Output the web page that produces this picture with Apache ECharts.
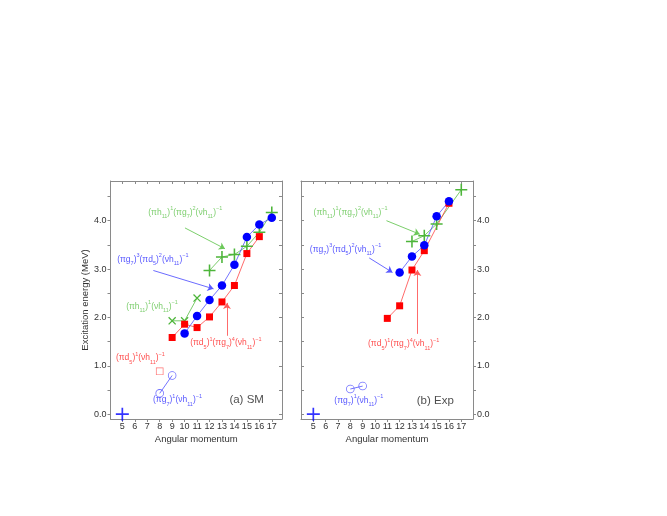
<!DOCTYPE html>
<html><head><meta charset="utf-8">
<script src="https://cdn.jsdelivr.net/npm/echarts@6/dist/echarts.min.js"></script>
<style>html,body{margin:0;padding:0;background:#fff}#c{width:667px;height:516px}</style>
</head><body><div id="c"></div>
<script>
// ---- data ----
const xTicks = [5,6,7,8,9,10,11,12,13,14,15,16,17];
const yLabels = [0,1,2,3,4];
const yTicks = [0,0.5,1,1.5,2,2.5,3,3.5,4,4.5];

const smBlueJ = [10,11,12,13,14,15,16,17];
const smBlueE = [1.67,2.03,2.36,2.66,3.09,3.66,3.92,4.06];
const smRedJ = [9,10,11,12,13,14,15,16];
const smRedE = [1.585,1.86,1.79,2.01,2.32,2.66,3.32,3.67];
const smGreenXJ = [9,10,11];
const smGreenXE = [1.93,1.93,2.40];
const smGreenPJ = [12,13,14,15,16,17];
const smGreenPE = [2.97,3.25,3.30,3.47,3.76,4.17];
const smBlueOpenJ = [8,9];
const smBlueOpenE = [0.43,0.80];
const smRedOpenJ = [8];
const smRedOpenE = [0.885];
const gsJ = [5];
const gsE = [0];

const expBlueJ = [12,13,14,15,16];
const expBlueE = [2.93,3.26,3.49,4.09,4.40];
const expRedJ = [11,12,13,14,16];
const expRedE = [1.98,2.24,2.98,3.38,4.36];
const expGreenPJ = [13,14,15,17];
const expGreenPE = [3.57,3.69,3.93,4.64];
const expBlueOpenJ = [8,9];
const expBlueOpenE = [0.52,0.58];

// configuration labels
const cfgG2 = "(πh_{11})^{1}(πg_{7})^{2}(νh_{11})^{−1}";
const cfgB3 = "(πg_{7})^{3}(πd_{5})^{2}(νh_{11})^{−1}";
const cfgG1 = "(πh_{11})^{1}(νh_{11})^{−1}";
const cfgR4 = "(πd_{5})^{1}(πg_{7})^{4}(νh_{11})^{−1}";
const cfgR1 = "(πd_{5})^{1}(νh_{11})^{−1}";
const cfgB1 = "(πg_{7})^{1}(νh_{11})^{−1}";
const panelTitles = ["(a) SM", "(b) Exp"];

// ---- helpers ----
const zip = (a,b) => a.map((v,i)=>[v,b[i]]);
function rich(s){
  let out = '', re = /([_^])\{([^}]*)\}|([^_^]+)/g, m;
  while((m = re.exec(s))){
    if(m[3]) out += '{n|'+m[3]+'}';
    else out += (m[1]==='_'?'{sub|':'{sup|')+m[2]+'}';
  }
  return out;
}
const FF = 'Liberation Sans';
const richStyles = {
  n:{fontSize:8.5, lineHeight:14, fontFamily:FF},
  sup:{fontSize:5.5, verticalAlign:'top', fontFamily:FF},
  sub:{fontSize:5.5, verticalAlign:'bottom', fontFamily:FF}
};
const PLUS = 'path://M0,4.35H10V5.65H0Z M4.35,0H5.65V10H4.35Z';
const BLUE='#0000ff', RED='#ff0000', GREEN='#4db53a';
const BLUE_L='rgba(70,70,255,0.75)', RED_L='rgba(255,70,70,0.8)', GREEN_L='rgba(90,190,70,0.8)';
const AX='#8a8a8a', TXT='#333';

function xAx(gi,min,max,top){
  return {type:'value', gridIndex:gi, min, max, position: top?'top':'bottom',
    axisLine:{onZero:false, lineStyle:{color:AX,width:1}},
    axisTick:{inside:!!top, length:3, customValues:xTicks, lineStyle:{color:AX}},
    axisLabel:{show:!top, customValues:xTicks, fontSize:9, color:TXT, margin:3, fontFamily:FF},
    splitLine:{show:false},
    name: top?'':'Angular momentum', nameLocation:'middle', nameGap:15,
    nameTextStyle:{fontSize:9.5, color:TXT, fontFamily:FF}};
}
function yAx(gi,pos,labels,name){
  return {type:'value', gridIndex:gi, min:-0.1, max:4.82, position:pos,
    axisLine:{onZero:false, lineStyle:{color:AX,width:1}},
    axisTick:{inside:!labels, length:3, customValues:yTicks, lineStyle:{color:AX}},
    axisLabel:{show:labels, customValues:yLabels, fontSize:9, color:TXT, margin:4,
      formatter:v=>v.toFixed(1), fontFamily:FF},
    splitLine:{show:false},
    name:name||'', nameLocation:'middle', nameGap:18,
    nameTextStyle:{fontSize:9.5, color:TXT, fontFamily:FF}};
}
function lineS(gi, data, symbol, size, color, lcolor, extra){
  return Object.assign({type:'line', xAxisIndex:gi*2, yAxisIndex:gi*2, data, symbol, symbolSize:size,
    showAllSymbol:true, animation:false, silent:true,
    itemStyle:{color}, lineStyle:{color:lcolor, width:1}}, extra||{});
}
function pts(gi, data, symbol, size, color, extra){
  return Object.assign({type:'scatter', xAxisIndex:gi*2, yAxisIndex:gi*2, data, symbol, symbolSize:size,
    animation:false, silent:true, itemStyle:{color}}, extra||{});
}
function openS(gi, data, symbol, size, color){
  return pts(gi, data, 'path://'+(symbol==='circle'
      ? 'M5,0A5,5 0 1 1 4.99,0Z M5,0.9A4.1,4.1 0 1 0 5.01,0.9Z'
      : 'M0,0H10V10H0Z M0.9,0.9V9.1H9.1V0.9Z'), size, color);
}
function textS(gi, x, y, str, color, fs){
  const r = JSON.parse(JSON.stringify(richStyles));
  if(fs){ r.n.fontSize = fs; }
  return {type:'scatter', xAxisIndex:gi*2, yAxisIndex:gi*2, data:[[x,y]], symbolSize:0,
    animation:false, silent:true,
    label:{show:true, position:[0,0], align:'center', verticalAlign:'middle',
      color, formatter:()=>rich(str), rich:r}};
}
function arrowS(gi, arrows){
  return {type:'line', xAxisIndex:gi*2, yAxisIndex:gi*2, data:[], animation:false, silent:true,
    markLine:{silent:true, animation:false, symbol:['none','arrow'], symbolSize:6,
      label:{show:false},
      data: arrows.map(a=>[{coord:[a[0],a[1]], lineStyle:{color:a[4], width:0.9, type:'solid'}, itemStyle:{color:a[4]}},
                            {coord:[a[2],a[3]]}])}};
}

const series = [
  // ---- SM panel ----
  lineS(0, zip(smGreenXJ,smGreenXE), PLUS, 10, GREEN, GREEN_L, {symbolRotate:45}),
  lineS(0, zip(smGreenPJ,smGreenPE), PLUS, 12, GREEN, GREEN_L),
  lineS(0, zip(smRedJ,smRedE), 'rect', 7, RED, RED_L),
  lineS(0, zip(smBlueJ,smBlueE), 'circle', 8.5, BLUE, BLUE_L),
  lineS(0, zip(smBlueOpenJ,smBlueOpenE), 'none', 0, BLUE, BLUE_L),
  openS(0, zip(smBlueOpenJ,smBlueOpenE), 'circle', 8.5, '#4a4aff'),
  openS(0, zip(smRedOpenJ,smRedOpenE), 'rect', 7.5, '#ff4a4a'),
  pts(0, zip(gsJ,gsE), PLUS, 13, BLUE),
  arrowS(0, [
    [10.03,3.85,13.24,3.42,'#6cc85a'],
    [7.49,2.97,12.32,2.59,'#5a5aff'],
    [13.40,1.62,13.40,2.30,'#ff5a5a']
  ]),
  textS(0, 10.05, 4.16, cfgG2, '#5cc24a'),
  textS(0, 7.45, 3.19, cfgB3, '#2a2aff'),
  textS(0, 7.38, 2.22, cfgG1, '#5cc24a'),
  textS(0, 13.31, 1.47, cfgR4, '#ff2020'),
  textS(0, 6.45, 1.16, cfgR1, '#ff2020'),
  textS(0, 9.43, 0.29, cfgB1, '#2a2aff'),
  textS(0, 14.98, 0.30, panelTitles[0], '#222', 11.5),
  // ---- Exp panel ----
  lineS(1, zip(expGreenPJ,expGreenPE), PLUS, 12, GREEN, GREEN_L),
  lineS(1, zip(expRedJ,expRedE), 'rect', 7, RED, RED_L),
  lineS(1, zip(expBlueJ,expBlueE), 'circle', 8.5, BLUE, BLUE_L),
  lineS(1, zip(expBlueOpenJ,expBlueOpenE), 'none', 0, BLUE, BLUE_L),
  openS(1, zip(expBlueOpenJ,expBlueOpenE), 'circle', 8.5, '#4a4aff'),
  pts(1, zip(gsJ,gsE), PLUS, 13, BLUE),
  arrowS(1, [
    [10.93,4.00,13.63,3.72,'#6cc85a'],
    [9.53,3.23,11.42,2.93,'#5a5aff'],
    [13.44,1.66,13.44,2.98,'#ff5a5a']
  ]),
  textS(1, 8.02, 4.17, cfgG2, '#5cc24a'),
  textS(1, 7.61, 3.41, cfgB3, '#2a2aff'),
  textS(1, 12.33, 1.45, cfgR4, '#ff2020'),
  textS(1, 8.69, 0.28, cfgB1, '#2a2aff'),
  textS(1, 14.89, 0.28, panelTitles[1], '#222', 11.5)
];

const chart = echarts.init(document.getElementById('c'), null, {renderer:'canvas'});
chart.setOption({
  backgroundColor:'#fff',
  animation:false,
  grid:[
    {left:110.5, top:181, width:171.5, height:238, containLabel:false},
    {left:301, top:181, width:172, height:238, containLabel:false}
  ],
  xAxis:[xAx(0,4.05,17.82,false), xAx(0,4.05,17.82,true), xAx(1,4.0,17.95,false), xAx(1,4.0,17.95,true)],
  yAxis:[yAx(0,'left',true,'Excitation energy (MeV)'), yAx(0,'right',false), yAx(1,'left',false), yAx(1,'right',true)],
  series
});
</script></body></html>
